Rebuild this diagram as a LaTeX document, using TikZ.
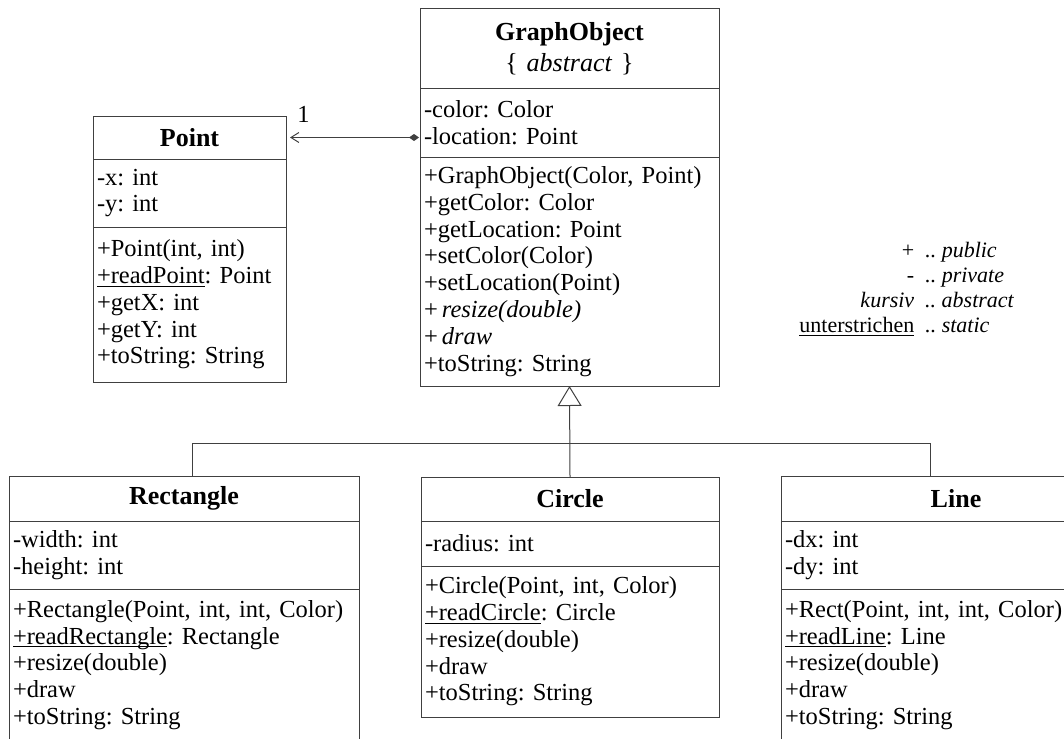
\documentclass[tikz,border=0pt]{standalone}
\usepackage{fontspec}
\setmainfont{Liberation Serif}[
  ItalicFont={Liberation Serif Italic},
  BoldFont={Liberation Serif Bold},
  BoldItalicFont={Liberation Serif Bold Italic}]
\usetikzlibrary{arrows.meta}
\frenchspacing

\newcommand{\stat}[1]{\underline{\smash{#1}}}

\tikzset{
  classhead/.style={draw=black!75, line width=0.5pt, anchor=north west, outer sep=0pt,
    inner xsep=2pt, inner ysep=0pt, align=center, text width=#1,
    font=\fontsize{13}{15.5}\selectfont\bfseries},
  compart/.style={draw=black!75, line width=0.5pt, anchor=north west, outer sep=0pt,
    inner xsep=2pt, inner ysep=0pt, align=left, text width=#1},
  assoc/.style={draw=black!75, line width=0.5pt,
    arrows={Straight Barb[length=4pt,width=5pt]-Diamond[length=5pt,width=3.5pt]},
    shorten <=2pt, shorten >=0.5pt},
  inherit/.style={draw=black!75, line width=0.5pt,
    arrows={-Triangle[open, length=10pt, width=12pt]}},
  link/.style={draw=black!75, line width=0.5pt},
}

\begin{document}
\begin{tikzpicture}[x=0.5pt, y=-0.5pt, font=\fontsize{12.25}{13.4}\selectfont]
    \useasboundingbox (0,0) rectangle (1064,738);
    \clip (0,0) rectangle (1064,738);

    % Draw nodes
    \node[classhead=92.5pt, minimum height=21.5pt] (pointHead) at (93,116) {Point};
    \node[compart=92.5pt, minimum height=34pt] (pointAttr) at (pointHead.south west) {-x: int\\-y: int};
    \node[compart=92.5pt, minimum height=77.5pt] (pointMeth) at (pointAttr.south west) {+Point(int, int)\\\stat{+readPoint}: Point\\+getX: int\\+getY: int\\+toString: String};

    \node[classhead=145.5pt, minimum height=40pt] (goHead) at (420,9) {GraphObject\\{\mdseries\{ \textit{abstract} \}}};
    \node[compart=145.5pt, minimum height=34pt] (goAttr) at (goHead.south west) {-color: Color\\-location: Point};
    \node[compart=145.5pt, minimum height=114.5pt] (goMeth) at (goAttr.south west) {+GraphObject(Color, Point)\\+getColor: Color\\+getLocation: Point\\+setColor(Color)\\+setLocation(Point)\\+\,\textit{resize(double)}\\+\,\textit{draw}\\+toString: String};

    \node[classhead=171pt, minimum height=22.5pt] (rectHead) at (9,476) {Rectangle};
    \node[compart=171pt, minimum height=34pt] (rectAttr) at (rectHead.south west) {-width: int\\-height: int};
    \node[compart=171pt, minimum height=76pt] (rectMeth) at (rectAttr.south west) {+Rectangle(Point, int, int, Color)\\\stat{+readRectangle}: Rectangle\\+resize(double)\\+draw\\+toString: String};

    \node[classhead=145pt, minimum height=22pt] (circleHead) at (421,477) {Circle};
    \node[compart=145pt, minimum height=22.5pt] (circleAttr) at (circleHead.south west) {-radius: int};
    \node[compart=145pt, minimum height=75.5pt] (circleMeth) at (circleAttr.south west) {+Circle(Point, int, Color)\\\stat{+readCircle}: Circle\\+resize(double)\\+draw\\+toString: String};

    \node[classhead=171pt, minimum height=22.5pt] (lineHead) at (781,476) {Line};
    \node[compart=171pt, minimum height=34pt] (lineAttr) at (lineHead.south west) {-dx: int\\-dy: int};
    \node[compart=171pt, minimum height=76pt] (lineMeth) at (lineAttr.south west) {+Rect(Point, int, int, Color)\\\stat{+readLine}: Line\\+resize(double)\\+draw\\+toString: String};

    % Legend
    \node[anchor=west, inner sep=0pt, font=\fontsize{11}{12.5}\selectfont] (legend) at (799,290) {%
      \begin{tabular}{@{}r@{\hspace{5.5pt}}l@{}}
        + & \textit{.. public}\\
        - & \textit{.. private}\\
        \textit{kursiv} & \textit{.. abstract}\\
        \stat{unterstrichen} & \textit{.. static}
      \end{tabular}};

    % Draw connections
    \draw[assoc] (pointHead.east) -- (pointHead.east -| goAttr.west) node[pos=0.13, above=4pt] (mult) {1};

    \coordinate (busL) at (192,443);
    \coordinate (busR) at (930,443);
    \draw[inherit] (circleHead.north) -- (goMeth.south);
    \draw[link] (busL) -- (busR);
    \draw[link] (busL) -- (busL |- rectHead.north);
    \draw[link] (busR) -- (busR |- lineHead.north);
\end{tikzpicture}
\end{document}
